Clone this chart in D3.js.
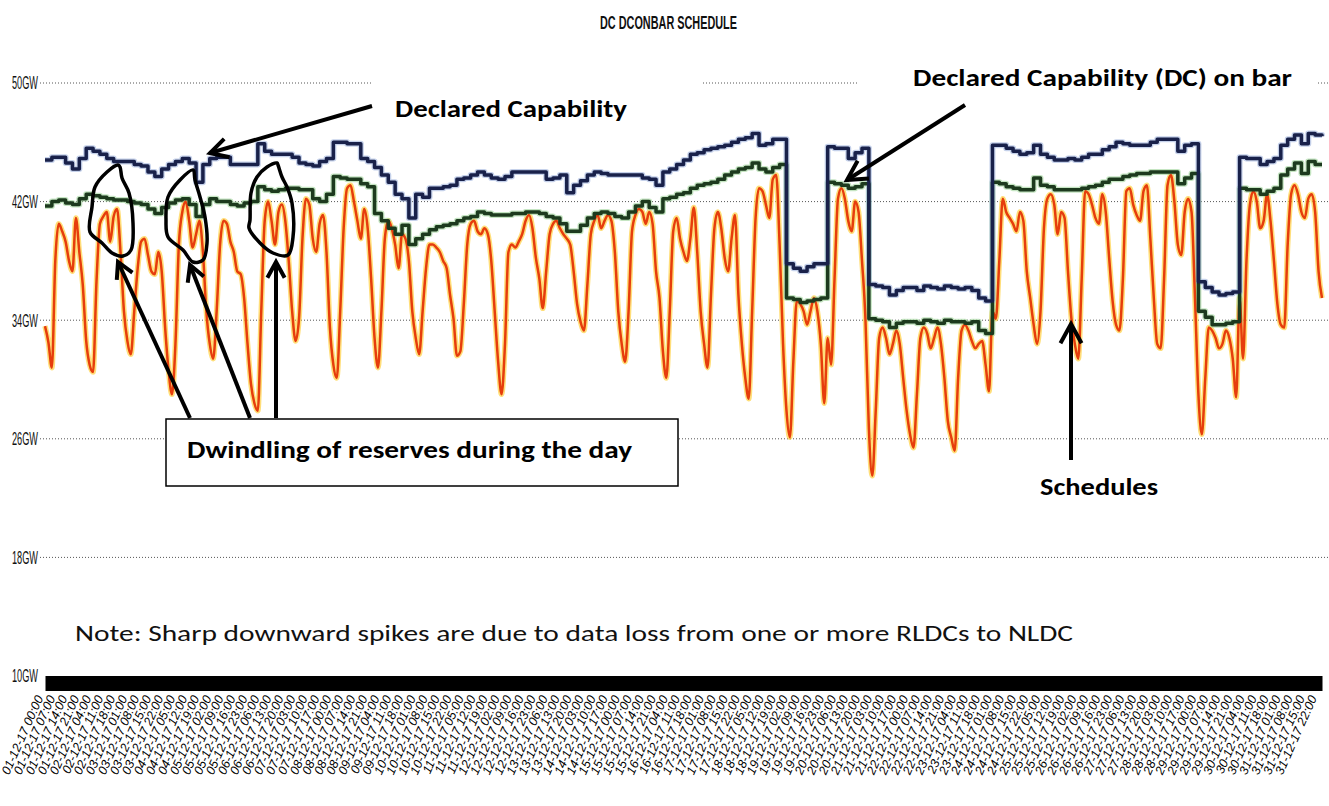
<!DOCTYPE html>
<html>
<head>
<meta charset="utf-8">
<script src="https://cdn.jsdelivr.net/npm/d3@7"></script>
<style>
body { margin: 0; background: #fff; }
svg { display: block; }
.grid { stroke: #555; stroke-width: 1; stroke-dasharray: 1,2; }
.ylab { font-family: "Liberation Sans Narrow", "Arial Narrow", sans-serif; font-size: 18px; fill: #111; }
.note { font-family: Carlito, Calibri, Lato, sans-serif; }
</style>
</head>
<body>
<div id="chart"></div>
<script>
var width = 1329;
var height = 806;

// sample spacing in hours (1 Dec 2017 00:00 = hour 0)
var dcStep = 4;
var schStep = 2;

// Declared Capability, GW, every 4 h (one row per day)
var dc = [
  44.8, 45.0, 45.0, 44.6, 44.2, 44.9,
  45.6, 45.4, 45.2, 44.9, 44.7, 44.7,
  44.7, 44.5, 44.4, 44.0, 43.7, 44.2,
  44.5, 44.7, 44.9, 44.6, 43.3, 44.5,
  44.9, 45.0, 45.0, 44.5, 44.5, 44.5,
  44.5, 45.9, 45.4, 45.2, 45.2, 45.2,
  45.0, 44.6, 44.5, 44.4, 44.7, 44.9,
  46.0, 46.0, 45.9, 45.9, 44.9, 44.7,
  44.3, 43.8, 43.3, 42.5, 42.2, 40.9,
  42.5, 42.3, 42.9, 42.9, 43.0, 43.1,
  43.5, 43.6, 43.8, 44.0, 43.8, 43.6,
  43.5, 43.7, 44.0, 44.0, 44.0, 44.0,
  44.0, 43.5, 43.6, 43.8, 42.6, 43.1,
  43.4, 43.8, 44.0, 43.9, 43.8, 43.8,
  43.8, 43.8, 43.8, 43.6, 43.5, 43.1,
  44.0, 44.2, 44.5, 44.8, 45.2, 45.3,
  45.5, 45.6, 45.7, 45.8, 46.0, 46.2,
  46.3, 46.6, 45.8, 45.9, 46.2, 46.2,
  37.8, 37.5, 37.3, 37.6, 37.8, 37.8,
  45.7, 45.6, 45.6, 44.9, 45.3, 45.6,
  36.4, 36.3, 36.2, 35.7, 36.0, 36.2,
  36.2, 36.0, 36.3, 36.2, 36.1, 36.3,
  36.2, 36.1, 36.2, 36.0, 35.5, 35.3,
  45.8, 45.8, 45.6, 45.4, 45.2, 45.3,
  45.8, 45.2, 45.0, 44.8, 44.8, 44.9,
  44.8, 45.0, 45.2, 45.2, 45.5, 45.7,
  46.0, 45.9, 45.8, 45.8, 45.8, 46.0,
  46.2, 46.2, 46.2, 45.4, 45.8, 45.9,
  36.6, 36.2, 35.9, 35.7, 35.8, 35.9,
  45.0, 44.9, 44.9, 44.5, 44.7, 44.9,
  45.8, 46.2, 46.5, 45.9, 46.6, 46.5,
  46.4
];

// DC on bar, GW, every 4 h
var dcOnBar = [
  41.7, 42.0, 42.1, 41.9, 41.8, 42.2,
  42.5, 42.4, 42.3, 42.2, 42.1, 42.1,
  42.0, 41.9, 41.8, 41.5, 41.2, 41.6,
  41.9, 42.1, 42.2, 41.8, 41.0, 41.8,
  42.2, 42.0, 42.0, 41.8, 41.7, 41.9,
  42.0, 43.0, 42.8, 42.7, 42.8, 42.9,
  42.9, 42.8, 42.8, 42.2, 42.0, 42.5,
  43.7, 43.6, 43.5, 43.5, 43.2, 43.0,
  41.2, 40.7, 40.2, 39.8, 40.4, 39.1,
  39.5, 39.8, 40.1, 40.3, 40.4, 40.5,
  40.7, 40.9, 41.0, 41.3, 41.2, 41.1,
  41.1, 41.1, 41.2, 41.2, 41.3, 41.3,
  41.2, 41.0, 40.9, 40.5, 40.0, 40.0,
  40.4, 40.9, 41.2, 41.3, 41.2, 41.0,
  40.9, 41.3, 41.7, 42.0, 41.6, 41.3,
  42.2, 42.3, 42.5, 42.6, 42.9, 43.1,
  43.2, 43.3, 43.5, 43.8, 44.0, 44.2,
  44.3, 44.6, 44.2, 44.0, 44.3, 44.5,
  35.5, 35.4, 35.2, 35.3, 35.4, 35.5,
  43.3, 43.2, 43.1, 42.9, 43.0, 43.2,
  34.1, 34.0, 33.9, 33.5, 33.8, 33.9,
  33.9, 33.8, 34.0, 33.9, 33.8, 34.0,
  33.9, 33.9, 33.8, 33.9, 33.3, 33.1,
  43.3, 43.2, 43.0, 42.9, 42.8, 42.8,
  43.6, 43.1, 43.0, 42.8, 42.8, 42.8,
  42.8, 42.9, 43.0, 43.1, 43.3, 43.5,
  43.5, 43.7, 43.8, 43.9, 43.9, 44.0,
  44.0, 44.0, 44.0, 43.2, 43.6, 43.9,
  34.6, 34.2, 33.7, 33.7, 33.8, 33.9,
  42.9, 42.8, 42.8, 42.5, 42.7, 42.9,
  43.8, 44.2, 44.6, 43.9, 44.7, 44.5,
  44.5
];

// Schedule, GW, every 2 h (one row per day)
var schedule = [
  33.6, 32.5, 30.8, 38.0, 40.5, 40.0, 39.3, 38.0, 37.3, 40.9, 38.6, 36.4,
  32.6, 31.0, 30.5, 36.6, 40.5, 41.0, 41.3, 39.3, 41.0, 41.5, 38.6, 34.6,
  32.6, 31.7, 34.6, 37.5, 39.3, 39.5, 38.4, 37.3, 37.1, 38.6, 37.3, 33.5,
  30.6, 29.0, 32.4, 39.1, 41.3, 42.0, 40.7, 38.9, 39.8, 40.7, 38.6, 34.6,
  32.4, 31.4, 34.6, 39.1, 40.7, 40.5, 39.3, 38.6, 37.3, 37.1, 35.5, 32.4,
  29.7, 28.4, 27.9, 34.6, 40.7, 42.0, 40.7, 39.1, 41.3, 41.8, 40.7, 38.0,
  34.6, 32.6, 34.1, 39.5, 42.2, 41.8, 39.5, 38.6, 40.5, 41.1, 38.6, 33.5,
  31.0, 30.1, 34.6, 40.2, 42.9, 43.1, 42.0, 40.7, 39.5, 41.5, 40.2, 36.8,
  32.8, 30.8, 34.6, 39.5, 40.7, 40.2, 39.1, 37.5, 39.8, 39.5, 38.0, 34.6,
  32.8, 31.7, 34.6, 37.5, 39.1, 39.1, 38.9, 38.6, 38.0, 37.5, 35.7, 34.1,
  31.6, 31.9, 35.1, 39.1, 40.5, 40.7, 40.0, 39.8, 40.2, 39.8, 38.0, 34.6,
  31.2, 29.0, 32.4, 38.6, 39.1, 38.9, 39.3, 39.8, 40.7, 41.1, 40.2, 38.2,
  36.8, 34.8, 37.3, 39.8, 40.5, 40.7, 40.2, 39.8, 39.5, 39.1, 37.3, 35.1,
  33.9, 33.3, 36.4, 39.8, 40.7, 41.1, 40.2, 40.7, 41.1, 40.7, 38.6, 34.6,
  32.4, 31.2, 34.6, 40.0, 41.1, 41.5, 41.3, 40.5, 41.3, 40.5, 37.3, 35.5,
  31.9, 30.1, 34.6, 40.0, 40.9, 39.5, 38.6, 38.0, 39.5, 41.6, 38.6, 34.6,
  32.4, 30.8, 35.7, 40.2, 41.3, 40.2, 38.2, 37.3, 39.5, 41.1, 35.7, 32.4,
  30.1, 28.7, 34.6, 40.9, 42.9, 42.7, 41.8, 40.9, 43.5, 43.8, 39.1, 32.4,
  27.9, 26.1, 31.2, 35.3, 35.1, 34.6, 33.7, 34.6, 35.5, 34.6, 32.4, 28.4,
  32.8, 31.0, 36.8, 42.2, 42.9, 42.2, 40.7, 40.0, 42.0, 41.3, 38.0, 34.1,
  26.7, 23.5, 27.9, 32.8, 33.5, 32.8, 31.7, 32.4, 33.3, 32.4, 30.1, 27.9,
  26.3, 25.4, 29.0, 32.8, 33.5, 33.1, 32.1, 32.8, 33.5, 32.4, 30.1, 27.2,
  26.1, 25.2, 30.1, 33.3, 33.7, 33.3, 32.6, 32.1, 32.4, 32.6, 31.0, 29.2,
  34.6, 34.1, 38.0, 42.2, 41.3, 40.9, 40.5, 40.0, 41.3, 40.7, 37.3, 35.5,
  33.7, 32.4, 34.6, 40.2, 42.2, 42.5, 41.8, 39.8, 41.3, 40.9, 37.3, 34.1,
  32.4, 31.4, 36.8, 42.7, 42.5, 41.8, 40.9, 40.5, 42.5, 41.3, 38.2, 35.3,
  33.7, 33.3, 36.8, 42.7, 42.9, 41.8, 41.1, 40.7, 42.7, 43.1, 39.5, 35.5,
  32.4, 32.1, 36.8, 43.1, 43.8, 42.0, 39.1, 38.4, 41.3, 42.2, 41.3, 35.5,
  29.0, 26.3, 30.1, 33.5, 33.3, 32.8, 32.1, 32.4, 33.3, 32.8, 31.4, 28.8,
  35.5, 31.4, 38.0, 41.8, 42.7, 42.0, 40.2, 40.7, 42.5, 40.7, 38.0, 35.1,
  33.7, 33.5, 39.1, 42.5, 43.1, 42.5, 41.3, 40.9, 42.2, 42.5, 41.3, 37.3,
  35.5
];

var yTicks = [10, 18, 26, 34, 42, 50];
var tickHours = d3.range(0, 743, 7);

var svg = d3.select("#chart")
  .append("svg")
  .attr("width", width)
  .attr("height", height)
  .style("background", "#fff");

var x = d3.scaleLinear().domain([0, 744]).range([45, 1322]);
var y = d3.scaleLinear().domain([10, 50]).range([676, 83]);

function pad(n) { return (n < 10 ? "0" : "") + n; }
function tickLabel(h) {
  return pad(Math.floor(h / 24) + 1) + "-12-17 " + pad(h % 24) + ":00";
}

// title
svg.append("text")
  .attr("x", 600).attr("y", 29)
  .attr("textLength", 137).attr("lengthAdjust", "spacingAndGlyphs")
  .style("font-family", "'Liberation Sans Narrow', 'Arial Narrow', sans-serif")
  .style("font-weight", "bold").style("font-size", "18px").style("fill", "#111")
  .text("DC DCONBAR SCHEDULE");

// gridlines + y labels
svg.append("g").selectAll("line")
  .data(yTicks.filter(function(d) { return d > 10; }))
  .enter().append("line")
  .attr("class", "grid")
  .attr("x1", 40).attr("x2", width)
  .attr("y1", function(d) { return y(d); })
  .attr("y2", function(d) { return y(d); });

svg.append("g").selectAll("text")
  .data(yTicks)
  .enter().append("text")
  .attr("class", "ylab")
  .attr("x", 38)
  .attr("y", function(d) { return y(d); })
  .attr("dy", "0.36em")
  .attr("text-anchor", "end")
  .attr("textLength", 26).attr("lengthAdjust", "spacingAndGlyphs")
  .text(function(d) { return d + "GW"; });

// x axis: thick black band + slanted labels
var xAxis = svg.append("g")
  .attr("transform", "translate(0,683)")
  .call(d3.axisBottom(x).tickValues(tickHours).tickSize(0).tickSizeOuter(0).tickFormat(tickLabel));

xAxis.select(".domain").attr("stroke", "#000").attr("stroke-width", 15);
xAxis.selectAll("text")
  .attr("y", 0).attr("dy", 0)
  .attr("transform", "translate(-2,15) rotate(-66)")
  .style("text-anchor", "end")
  .style("font-family", "'Liberation Sans Narrow', 'Arial Narrow', sans-serif")
  .style("font-style", "italic")
  .style("font-size", "12.5px")
  .style("fill", "#000");

// series lines
var dcLine = d3.line()
  .x(function(d, i) { return x(i * dcStep); })
  .y(function(d) { return y(d); })
  .curve(d3.curveStepAfter);

var schLine = d3.line()
  .x(function(d, i) { return x(i * schStep); })
  .y(function(d) { return y(d); })
  .curve(d3.curveMonotoneX);

var lines = svg.append("g").attr("fill", "none").attr("stroke-linejoin", "round");

lines.append("path").datum(schedule).attr("d", schLine)
  .attr("stroke", "#ffd040").attr("stroke-opacity", 0.7).attr("stroke-width", 5.5);
lines.append("path").datum(dcOnBar).attr("d", dcLine)
  .attr("stroke", "#9fd49a").attr("stroke-opacity", 0.6).attr("stroke-width", 6);
lines.append("path").datum(dc).attr("d", dcLine)
  .attr("stroke", "#9fb2dc").attr("stroke-opacity", 0.6).attr("stroke-width", 6);

lines.append("path").datum(schedule).attr("d", schLine)
  .attr("stroke", "#e63d0c").attr("stroke-width", 2.5);
lines.append("path").datum(dcOnBar).attr("d", dcLine)
  .attr("stroke", "#1d3a1e").attr("stroke-width", 3.5);
lines.append("path").datum(dc).attr("d", dcLine)
  .attr("stroke", "#19214a").attr("stroke-width", 3.5);

// ---- annotations ----
var ann = svg.append("g");
var boldFont = "Carlito, Calibri, Lato, sans-serif";

function arrow(x1, y1, x2, y2, head) {
  var a = Math.atan2(y1 - y2, x1 - x2);
  var p1 = [x2 + head * Math.cos(a + 0.5), y2 + head * Math.sin(a + 0.5)];
  var p2 = [x2 + head * Math.cos(a - 0.5), y2 + head * Math.sin(a - 0.5)];
  ann.append("line")
    .attr("x1", x1).attr("y1", y1).attr("x2", x2).attr("y2", y2)
    .attr("stroke", "#000").attr("stroke-width", 4);
  ann.append("path")
    .attr("d", "M" + p1 + "L" + x2 + "," + y2 + "L" + p2)
    .attr("fill", "none").attr("stroke", "#000").attr("stroke-width", 4)
    .attr("stroke-linejoin", "miter");
}

function label(txt, x0, y0, len, size) {
  ann.append("text")
    .attr("x", x0).attr("y", y0)
    .attr("textLength", len).attr("lengthAdjust", "spacingAndGlyphs")
    .style("font-family", boldFont).style("font-weight", "bold")
    .style("font-size", size + "px").style("fill", "#000")
    .text(txt);
}

// white text boxes over the chart
ann.append("rect").attr("x", 373).attr("y", 72).attr("width", 330).attr("height", 58).attr("fill", "#fff");
ann.append("rect").attr("x", 858).attr("y", 52).attr("width", 458).attr("height", 50).attr("fill", "#fff");

label("Declared Capability", 395, 117, 232, 24);
label("Declared Capability (DC) on bar", 913, 86, 379, 24);

arrow(372, 106, 210, 153, 20);
arrow(965, 105, 847, 180, 22);

// hand-drawn loops
var loops = [
  [[118,165],[107,172],[95,187],[92,207],[90,232],[102,243],[112,253],[123,256],[131,250],[133,223],[129,193],[122,178],[120,167]],
  [[193,170],[180,180],[168,197],[166,220],[168,237],[183,250],[193,262],[203,260],[207,243],[205,217],[200,197],[195,180]],
  [[277,163],[267,167],[257,177],[251,193],[250,220],[249,228],[260,243],[273,253],[288,255],[293,237],[292,203],[287,187],[282,177],[278,165]]
];
ann.selectAll(".loop").data(loops).enter().append("path")
  .attr("class", "loop")
  .attr("d", d3.line().curve(d3.curveCatmullRomClosed))
  .attr("fill", "none").attr("stroke", "#000").attr("stroke-width", 3.5);

arrow(190, 418, 118, 262, 18);
arrow(250, 418, 190, 265, 18);
arrow(276, 418, 276, 262, 18);

ann.append("rect").attr("x", 166).attr("y", 419).attr("width", 512).attr("height", 67)
  .attr("fill", "#fff").attr("stroke", "#000").attr("stroke-width", 1.5);
label("Dwindling of reserves during the day", 187, 458, 445, 24);

arrow(1071, 460, 1071, 324, 22);
label("Schedules", 1040, 495, 118, 24);

// note
svg.append("text")
  .attr("class", "note")
  .attr("x", 75).attr("y", 641)
  .attr("textLength", 998).attr("lengthAdjust", "spacingAndGlyphs")
  .style("font-size", "22px").style("fill", "#111")
  .text("Note: Sharp downward spikes are due to data loss from one or more RLDCs to NLDC");
</script>
</body>
</html>
